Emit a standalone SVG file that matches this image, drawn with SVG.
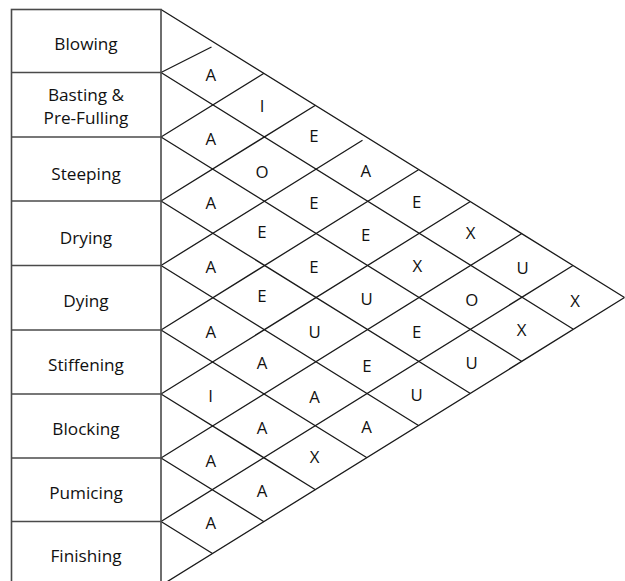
<svg xmlns="http://www.w3.org/2000/svg" width="625" height="581" viewBox="0 0 625 581">
<style>
.box{fill:#fff;stroke:#4a4a4a;stroke-width:1.6}
.div{stroke:#4a4a4a;stroke-width:1.6}
.lbl{font-family:"Open Sans","Noto Sans","Liberation Sans",sans-serif;font-size:17.2px;fill:#111;text-anchor:middle}
.rel{font-family:"Open Sans","Noto Sans","Liberation Sans",sans-serif;font-size:16.8px;fill:#111;text-anchor:middle}
.ln{fill:none;stroke:#1a1a1a;stroke-width:1.3}
</style>
<rect width="625" height="581" fill="#fff"/>
<g id="connectors">
<path class="ln" d="M161 9.5L624.5 297.5M161 585.5L624.5 297.5"/>
<path class="ln" d="M161 72.5L211.5 47M161 137L264 73.25M161 201L315.5 105.25M161 265.5L362.5 140.3M161 330L418.5 169.75M161 394L470 201.75M161 458L521.5 233.75M161 521.5L573 265.5"/>
<path class="ln" d="M161 72.5L573 329M161 137L521.5 361.25M161 201L470 393.25M161 265.5L418.5 425.5M161 330L367 457.75M161 394L315.5 489.75M161 458L264 521.75M161 521.5L212.5 553.5"/>
</g>
<rect class="box" x="11.5" y="9.5" width="149.5" height="600"/>
<g id="blowing"><line class="div" x1="11.5" y1="72.5" x2="161" y2="72.5"/><text class="lbl" x="86" y="50">Blowing</text></g>
<g id="basting"><line class="div" x1="11.5" y1="137" x2="161" y2="137"/><text class="lbl" x="86" y="101">Basting &amp;</text><text class="lbl" x="86" y="124">Pre-Fulling</text></g>
<g id="steeping"><line class="div" x1="11.5" y1="201" x2="161" y2="201"/><text class="lbl" x="86" y="180">Steeping</text></g>
<g id="drying"><line class="div" x1="11.5" y1="265.5" x2="161" y2="265.5"/><text class="lbl" x="86" y="243.5">Drying</text></g>
<g id="dying"><line class="div" x1="11.5" y1="330" x2="161" y2="330"/><text class="lbl" x="86" y="307">Dying</text></g>
<g id="stiffening"><line class="div" x1="11.5" y1="394" x2="161" y2="394"/><text class="lbl" x="86" y="371">Stiffening</text></g>
<g id="blocking"><line class="div" x1="11.5" y1="458" x2="161" y2="458"/><text class="lbl" x="86" y="435">Blocking</text></g>
<g id="pumicing"><line class="div" x1="11.5" y1="521.5" x2="161" y2="521.5"/><text class="lbl" x="86" y="499">Pumicing</text></g>
<g id="finishing"><text class="lbl" x="86" y="562">Finishing</text></g>
<g id="relations">
<text class="rel" x="210.7" y="81.3">A</text>
<text class="rel" x="210.7" y="144.8">A</text>
<text class="rel" x="210.7" y="209">A</text>
<text class="rel" x="210.7" y="273">A</text>
<text class="rel" x="210.7" y="337.5">A</text>
<text class="rel" x="210.7" y="402">I</text>
<text class="rel" x="210.7" y="467">A</text>
<text class="rel" x="210.7" y="529">A</text>
<text class="rel" x="262" y="112">I</text>
<text class="rel" x="262" y="178.3">O</text>
<text class="rel" x="262" y="237.5">E</text>
<text class="rel" x="262" y="302">E</text>
<text class="rel" x="262" y="369">A</text>
<text class="rel" x="262" y="434">A</text>
<text class="rel" x="262" y="497">A</text>
<text class="rel" x="314" y="141.5">E</text>
<text class="rel" x="314" y="208.5">E</text>
<text class="rel" x="314" y="272.5">E</text>
<text class="rel" x="314.5" y="338">U</text>
<text class="rel" x="314.5" y="402.5">A</text>
<text class="rel" x="314.5" y="463">X</text>
<text class="rel" x="365.7" y="176.5">A</text>
<text class="rel" x="365.7" y="241">E</text>
<text class="rel" x="366.5" y="305">U</text>
<text class="rel" x="367" y="371.5">E</text>
<text class="rel" x="366.5" y="432.5">A</text>
<text class="rel" x="416.7" y="207.5">E</text>
<text class="rel" x="417.3" y="271.5">X</text>
<text class="rel" x="416.7" y="337.5">E</text>
<text class="rel" x="416.7" y="400.5">U</text>
<text class="rel" x="470.7" y="238.5">X</text>
<text class="rel" x="471.7" y="306">O</text>
<text class="rel" x="471.7" y="368.5">U</text>
<text class="rel" x="522.7" y="274">U</text>
<text class="rel" x="521.7" y="336">X</text>
<text class="rel" x="575" y="306.5">X</text>
</g>
</svg>
